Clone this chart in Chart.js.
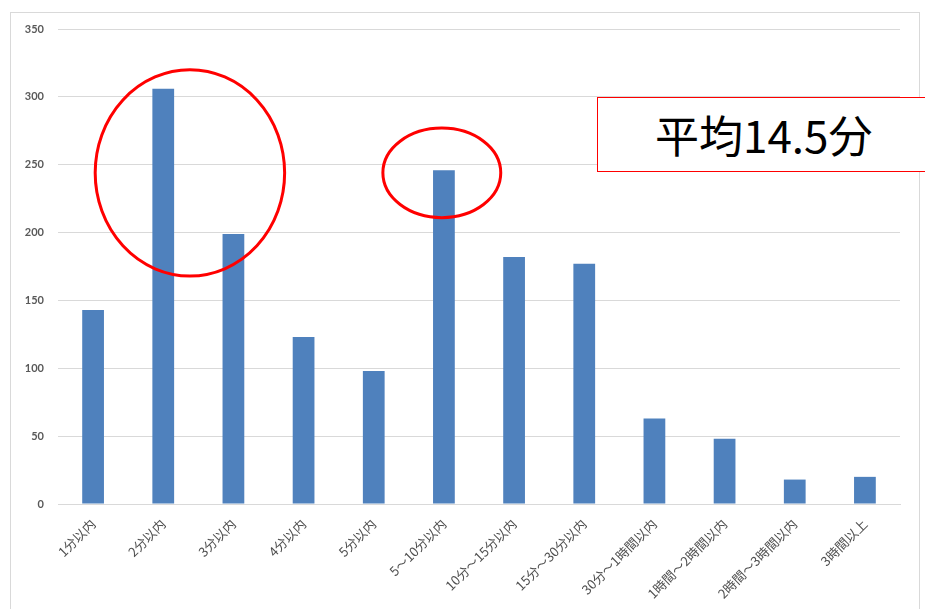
<!DOCTYPE html>
<html lang="ja">
<head>
<meta charset="UTF-8">
<title>所要時間の分布</title>
<script src="https://cdn.jsdelivr.net/npm/chart.js"></script>
<style>
  body { margin: 0; background: #fff; font-family: "Noto Sans CJK JP", sans-serif; }
  #wrap { position: relative; width: 925px; height: 609px; overflow: hidden; }
  #frame {
    position: absolute; left: 10px; top: 12px; width: 908px; height: 640px;
    border: 1px solid #d9d9d9;
  }
  canvas { position: absolute; left: 0; top: 0; }
  #avg {
    position: absolute; left: 597px; top: 97px; width: 340px; height: 75px;
    border: 1px solid #ff0000; box-sizing: border-box; background: #fff;
    font: 44px "Noto Sans CJK JP", sans-serif; color: #000;
    line-height: 72px; padding-left: 57px;
  }
</style>
</head>
<body>
<div id="wrap">
  <div id="frame"></div>
  <canvas id="chart" width="925" height="609"></canvas>
  <div id="avg">平均14.5分</div>
</div>
<script>
  const categories = ['1分以内', '2分以内', '3分以内', '4分以内', '5分以内', '5～10分以内',
    '10分～15分以内', '15分～30分以内', '30分～1時間以内', '1時間～2時間以内', '2時間～3時間以内', '3時間以上'];
  const counts = [143, 306, 199, 123, 98, 246, 182, 177, 63, 48, 18, 20];
  const yTicks = [0, 50, 100, 150, 200, 250, 300, 350];

  // red circles around the peaks: [category index, value, half-width in categories, half-height in values]
  const highlights = [
    [1.38, 244, 1.35, 76],
    [4.97, 244, 0.84, 33]
  ];

  const ellipsePlugin = {
    id: 'ellipses',
    afterDraw(chart) {
      const { ctx, scales: { x, y } } = chart;
      const step = x.getPixelForValue(1) - x.getPixelForValue(0);
      ctx.save();
      ctx.strokeStyle = '#ff0000';
      ctx.lineWidth = 3;
      highlights.forEach(([ci, v, hw, hh]) => {
        const cx = x.getPixelForValue(0) + ci * step;
        const cy = y.getPixelForValue(v);
        const rx = hw * step;
        const ry = y.getPixelForValue(0) - y.getPixelForValue(hh);
        ctx.beginPath();
        ctx.ellipse(cx, cy, rx, ry, 0, 0, Math.PI * 2);
        ctx.stroke();
      });
      ctx.restore();
    }
  };

  new Chart(document.getElementById('chart'), {
    type: 'bar',
    data: {
      labels: categories,
      datasets: [{
        data: counts,
        backgroundColor: '#4f81bd',
        categoryPercentage: 1,
        barPercentage: 0.31
      }]
    },
    options: {
      responsive: false,
      animation: false,
      layout: { padding: { top: 29, right: 25, left: 0, bottom: 0 } },
      plugins: { legend: { display: false }, tooltip: { enabled: false } },
      scales: {
        x: {
          grid: { display: false },
          border: { color: '#d9d9d9' },
          afterFit(scale) { scale.height = 105; },
          ticks: {
            maxRotation: 45, minRotation: 45, padding: 4,
            color: '#505050',
            font: { family: '"Noto Sans CJK JP"', size: 13 }
          }
        },
        y: {
          min: 0, max: 350,
          afterFit(scale) { scale.width = 58; },
          afterBuildTicks(scale) { scale.ticks = yTicks.map(v => ({ value: v })); },
          border: { display: false },
          grid: { color: '#d9d9d9', drawTicks: false },
          ticks: {
            padding: 14,
            color: '#595959',
            font: { family: 'Lato, "Noto Sans"', size: 11, weight: 'bold' }
          }
        }
      }
    },
    plugins: [ellipsePlugin]
  });
</script>
</body>
</html>
